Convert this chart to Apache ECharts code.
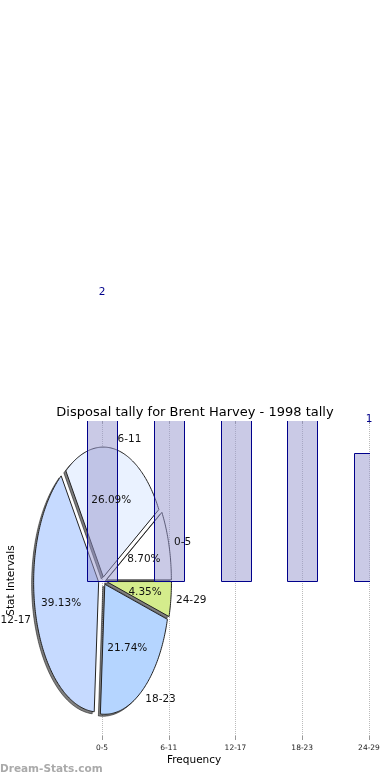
<!DOCTYPE html>
<html><head><meta charset="utf-8">
<script src="https://cdn.jsdelivr.net/npm/echarts@6/dist/echarts.min.js"></script>
<style>html,body{margin:0;padding:0;background:#fff}#c{width:390px;height:780px}</style>
</head><body><div id="c"></div>
<script>
// ---- data ----
const categories = ['0-5', '6-11', '12-17', '18-23', '24-29'];
const frequencies = [2, 6, 9, 5, 1];
const sliceColors = ['#ffffff', '#eaf2ff', '#c6daff', '#b5d5ff', '#d4ec8c'];
const titleText = 'Disposal tally for Brent Harvey - 1998 tally';
const xAxisName = 'Frequency';
const yAxisName = 'Stat Intervals';
const watermarkText = 'Dream-Stats.com';

// ---- derived ----
const FONT = 'DejaVu Sans';
const BAR_W = 30;
const EXPLODE = 4;
const axisCats = [''].concat(categories);
const barData = ['-'].concat(frequencies);
const barPoints = frequencies.map((v, i) => [i + 1, v]);
const total = frequencies.reduce((a, b) => a + b, 0);
let acc = 0;
const slices = frequencies.map((v, i) => {
  const s = acc / total * Math.PI * 2; acc += v;
  const e = acc / total * Math.PI * 2;
  return [i, s, e, v];
});

function slicePoints(api, s, e, ox, oy) {
  const c = api.coord([0, 0]);
  const pts = [[c[0] + ox, c[1] + oy]];
  const n = Math.max(2, Math.ceil((e - s) / (Math.PI / 180)));
  for (let k = 0; k <= n; k++) {
    const a = s + (e - s) * k / n;
    const p = api.coord([Math.cos(a), Math.sin(a)]);
    pts.push([p[0] + ox, p[1] + oy]);
  }
  return pts;
}

function renderSlice(params, api) {
  const i = params.dataIndex;
  const s = api.value(1), e = api.value(2);
  const m = (s + e) / 2;
  const ox = Math.cos(m) * EXPLODE, oy = -Math.sin(m) * EXPLODE;
  return {
    type: 'group', children: [
      { type: 'polygon', z2: 0, shape: { points: slicePoints(api, s, e, ox - 2, oy + 2) },
        style: { fill: 'rgba(0,0,0,0.5)', stroke: 'rgba(0,0,0,0.5)', lineWidth: 1 } },
      { type: 'polygon', z2: 1, shape: { points: slicePoints(api, s, e, ox, oy) },
        style: { fill: sliceColors[i], stroke: '#222', lineWidth: 1 } }
    ]
  };
}

function renderSliceLabel(params, api) {
  const i = params.dataIndex;
  const s = api.value(1), e = api.value(2), v = api.value(3);
  const m = (s + e) / 2;
  const ox = Math.cos(m) * EXPLODE, oy = -Math.sin(m) * EXPLODE;
  const po = api.coord([Math.cos(m) * 1.08, Math.sin(m) * 1.08]);
  const pi = api.coord([Math.cos(m) * 0.6, Math.sin(m) * 0.6]);
  const pct = (v / total * 100).toFixed(2) + '%';
  return {
    type: 'group', children: [
      { type: 'text', x: po[0] + ox, y: po[1] + oy,
        style: { text: categories[i], fill: '#111', fontSize: 10.5, fontFamily: FONT,
          align: Math.cos(m) >= 0 ? 'left' : 'right', verticalAlign: 'middle' } },
      { type: 'text', x: pi[0] + ox, y: pi[1] + oy,
        style: { text: pct, fill: '#111', fontSize: 10.5, fontFamily: FONT,
          align: 'center', verticalAlign: 'middle' } }
    ]
  };
}

function renderBar(params, api) {
  const x = api.value(0), v = api.value(1);
  const top = api.coord([x, v]);
  const base = api.coord([x, 0]);
  return {
    type: 'rect',
    shape: { x: Math.round(top[0] - BAR_W / 2) + 0.5, y: Math.round(top[1]) + 0.5, width: BAR_W, height: Math.round(base[1]) - Math.round(top[1]) },
    style: { fill: 'rgba(150,150,205,0.5)', stroke: '#00008b', lineWidth: 1 }
  };
}

const chart = echarts.init(document.getElementById('c'), null, { renderer: 'canvas' });
chart.setOption({
  animation: false,
  textStyle: { fontFamily: FONT },
  title: [
    { text: titleText, left: 'center', top: 406, padding: 0,
      textStyle: { fontSize: 13, fontWeight: 'normal', color: '#000', fontFamily: FONT } },
    { text: watermarkText, left: 0, top: 764, padding: 0,
      textStyle: { fontSize: 10.5, fontWeight: 'bold', color: '#aaa', fontFamily: FONT } }
  ],
  grid: [
    { left: 35.25, right: 21, top: 421, bottom: 40, containLabel: false, outerBoundsMode: 'none' },
    { left: 37.5, top: 451, width: 130, height: 260, containLabel: false, outerBoundsMode: 'none' }
  ],
  xAxis: [
    { type: 'category', gridIndex: 0, data: axisCats, boundaryGap: false, position: 'bottom',
      axisLine: { show: false, onZero: false },
      axisTick: { show: true, inside: true, length: 4, interval: (i) => i > 0, lineStyle: { color: '#999' } },
      axisLabel: { interval: 0, fontSize: 7.5, color: '#222', margin: 4 },
      splitLine: { show: true, interval: (i) => i > 0, lineStyle: { type: 'dotted', color: '#bbb', width: 1 } },
      name: xAxisName, nameLocation: 'middle', nameGap: 15,
      nameTextStyle: { fontSize: 10.5, color: '#000', padding: [0, 16, 0, 0] } },
    { type: 'category', gridIndex: 0, data: axisCats, boundaryGap: false, position: 'top',
      axisLine: { show: false, onZero: false },
      axisTick: { show: true, inside: true, length: 3, interval: (i) => i > 0, lineStyle: { color: '#999' } },
      axisLabel: { show: false }, splitLine: { show: false } },
    { type: 'value', gridIndex: 1, min: -1, max: 1, show: false }
  ],
  yAxis: [
    { type: 'value', gridIndex: 0, min: -1.25, max: 1.25,
      axisLine: { show: false }, axisTick: { show: false }, axisLabel: { show: false }, splitLine: { show: false },
      name: yAxisName, nameLocation: 'middle', nameGap: 18,
      nameTextStyle: { fontSize: 10.5, color: '#000' } },
    { type: 'value', gridIndex: 1, min: -1, max: 1, show: false }
  ],
  series: [
    { type: 'custom', name: 'pie', xAxisIndex: 2, yAxisIndex: 1, data: slices,
      renderItem: renderSlice, clip: false, z: 1, silent: true },
    { type: 'custom', name: 'bars', xAxisIndex: 0, yAxisIndex: 0, data: barPoints,
      renderItem: renderBar, clip: true, z: 3, silent: true },
    { type: 'bar', name: 'barLabels', xAxisIndex: 0, yAxisIndex: 0, data: barData,
      barWidth: BAR_W, clip: false, z: 5, silent: true,
      itemStyle: { color: 'rgba(0,0,0,0)', borderWidth: 0 },
      label: { show: true, position: 'top', distance: 28, color: '#00008b', fontSize: 10.5, fontFamily: FONT } },
    { type: 'custom', name: 'pieLabels', xAxisIndex: 2, yAxisIndex: 1, data: slices,
      renderItem: renderSliceLabel, clip: false, z: 6, silent: true }
  ]
});
</script>
</body></html>
